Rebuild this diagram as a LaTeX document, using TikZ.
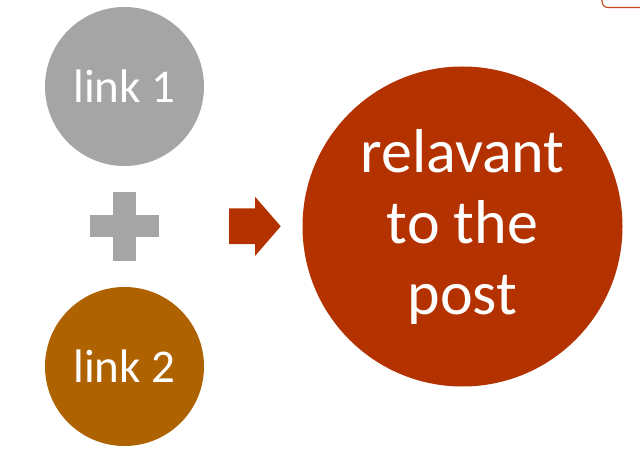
\documentclass[tikz,border=0pt]{standalone}
\usepackage{fontspec}
\setmainfont{Carlito}
\definecolor{grayc}{RGB}{165,165,165}
\definecolor{brownc}{RGB}{174,98,0}
\definecolor{redc}{RGB}{180,50,0}
\definecolor{framec}{RGB}{196,72,28}
\begin{document}
\begin{tikzpicture}[x=1pt,y=-1pt,
  bubble/.style={circle,inner sep=0pt,text=white,align=center},
  small/.style={bubble,minimum size=159pt,font=\fontsize{47}{54}\selectfont},
  big/.style={bubble,minimum size=320pt,font=\fontsize{62}{71}\selectfont}]
\useasboundingbox (0,0) rectangle (640,462);
\fill[white] (0,0) rectangle (640,462);
% top-right frame corner
\draw[framec,line width=1.1pt,rounded corners=6pt] (602,-20) rectangle (700,7.5);
\node[small,fill=grayc] (l1) at (124.5,86.5) {link 1};
\node[small,fill=brownc] (l2) at (124.5,366.5) {link 2};
\node[big,fill=redc] (res) at (462.5,226.5) {relavant\\to the\\post};
% plus sign
\coordinate (plus) at (124.7,226.3);
\fill[grayc] (113.3,192.3) rectangle (135.9,260.7);
\fill[grayc] (90,215) rectangle (159.3,237.4);
% arrow
\coordinate (arr) at (255,226.3);
\fill[redc] (229,208.3) -- (255,208.3) -- (255,196.7) -- (280.7,226.3) -- (255,256) -- (255,244.2) -- (229,244.2) -- cycle;
\end{tikzpicture}
\end{document}
